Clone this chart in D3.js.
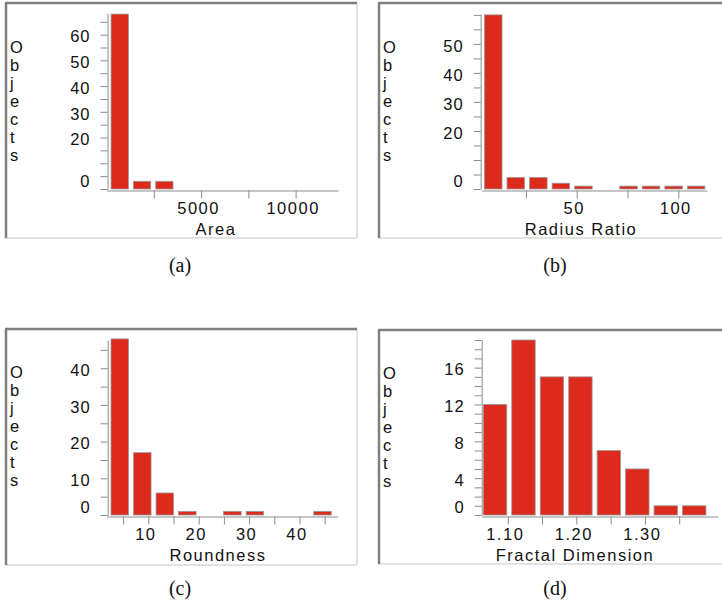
<!DOCTYPE html>
<html>
<head>
<meta charset="utf-8">
<script src="https://cdn.jsdelivr.net/npm/d3@7"></script>
<style>
  body { margin: 0; background: #fff; }
  svg { display: block; }
</style>
</head>
<body>
<svg width="722" height="607"></svg>

<script>
// ---- data ----
// Area histogram
var areaCounts = [68, 3, 3, 0, 0, 0, 0, 0, 0, 0];
var areaBinStart = 30, areaBinWidth = 1180;
var areaTicksX = [2500, 5000, 7500, 10000];
var areaLabelsX = [5000, 10000];
var areaTicksY = [0, 5, 10, 15, 20, 25, 30, 35, 40, 45, 50, 55, 60, 65];
var areaLabelsY = [0, 20, 30, 40, 50, 60];

// Radius Ratio histogram
var radiusCounts = [60, 4, 4, 2, 1, 0, 1, 1, 1, 1];
var radiusBinStart = 2.6, radiusBinWidth = 11.1;
var radiusTicksX = [25, 50, 75, 100];
var radiusLabelsX = [50, 100];
var radiusTicksY = [0, 5, 10, 15, 20, 25, 30, 35, 40, 45, 50, 55, 60];
var radiusLabelsY = [0, 20, 30, 40, 50];

// Roundness histogram
var roundCounts = [48, 17, 6, 1, 0, 1, 1, 0, 0, 1];
var roundBinStart = 1.8, roundBinWidth = 4.47;
var roundTicksX = [5, 10, 15, 20, 25, 30, 35, 40, 45];
var roundLabelsX = [10, 20, 30, 40];
var roundTicksY = [0, 5, 10, 15, 20, 25, 30, 35, 40, 45];
var roundLabelsY = [0, 10, 20, 30, 40];

// Fractal Dimension histogram
var fractalCounts = [12, 19, 15, 15, 7, 5, 1, 1];
var fractalBinStart = 1.0585, fractalBinWidth = 0.0415;
var fractalTicksX = [1.10, 1.15, 1.20, 1.25, 1.30, 1.35];
var fractalLabelsX = [1.10, 1.20, 1.30];
var fractalTicksY = [0, 1, 2, 3, 4, 5, 6, 7, 8, 9, 10, 11, 12, 13, 14, 15, 16, 17, 18, 19];
var fractalLabelsY = [0, 4, 8, 12, 16];

var yLabel = "Objects";
var captions = ["(a)", "(b)", "(c)", "(d)"];

// ---- drawing ----
var svg = d3.select("svg");
svg.append("rect").attr("width", 722).attr("height", 607).attr("fill", "#fff");

var barFill = "#dc2b1d";
var axisColor = "#8c8c8c";
var font = "'Liberation Sans', Arial, sans-serif";
var ink = "#111";

function drawPanel(p) {
	var g = svg.append("g");

	// bevelled frame
	g.append("line").attr("x1", p.frame[0]).attr("x2", p.frame[2])
		.attr("y1", p.frame[3]).attr("y2", p.frame[3])
		.attr("stroke", "#d8d8d8").attr("stroke-width", 1.5);
	g.append("line").attr("x1", p.frame[2]).attr("x2", p.frame[2])
		.attr("y1", p.frame[1]).attr("y2", p.frame[3])
		.attr("stroke", "#d8d8d8").attr("stroke-width", 1.5);
	g.append("line").attr("x1", p.frame[0]).attr("x2", p.frame[2])
		.attr("y1", p.frame[1]).attr("y2", p.frame[1])
		.attr("stroke", "#7f7f7f").attr("stroke-width", 2.5);
	g.append("line").attr("x1", p.frame[0] + 1).attr("x2", p.frame[0] + 1)
		.attr("y1", p.frame[1]).attr("y2", p.frame[3])
		.attr("stroke", "#7f7f7f").attr("stroke-width", 2.5);

	var x = d3.scaleLinear().domain(p.xDomain).range(p.xRange);
	var y = d3.scaleLinear().domain(p.yDomain).range(p.yRange);

	// bars
	var bins = p.counts.map(function(c, i) {
		return { x0: p.binStart + i * p.binWidth, x1: p.binStart + (i + 1) * p.binWidth, n: c };
	}).filter(function(d) { return d.n > 0; });

	g.selectAll("rect.bar").data(bins).enter().append("rect")
		.attr("class", "bar")
		.attr("x", function(d) { return x(d.x0) + 4; })
		.attr("width", function(d) { return x(d.x1) - x(d.x0) - 5; })
		.attr("y", function(d) { return y(d.n); })
		.attr("height", function(d) { return y(0) - y(d.n); })
		.attr("fill", barFill)
		.attr("stroke", "#9a9a9a")
		.attr("stroke-width", 0.8);

	// y axis
	var yAxis = g.append("g")
		.attr("transform", "translate(" + p.yAxisX + ",0)")
		.call(d3.axisLeft(y).tickValues(p.ticksY).tickSize(7).tickSizeOuter(0).tickPadding(10)
			.tickFormat(function(d) { return p.labelsY.indexOf(d) >= 0 ? d : ""; }));
	yAxis.select(".domain").attr("stroke", axisColor);
	yAxis.selectAll(".tick line").attr("stroke", axisColor);
	yAxis.selectAll(".tick text")
		.attr("font-family", font).attr("font-size", 16.5).attr("fill", ink)
		.attr("letter-spacing", "1px")
		.attr("y", function(d) { return d === 0 ? -8 : 2; });

	// x axis
	var xAxis = g.append("g")
		.attr("transform", "translate(0," + p.xAxisY + ")")
		.call(d3.axisBottom(x).tickValues(p.ticksX).tickSize(8).tickSizeOuter(0).tickPadding(4)
			.tickFormat(function(d) {
				var hit = p.labelsX.some(function(v) { return Math.abs(v - d) < 1e-9; });
				return hit ? p.fmt(d) : "";
			}));
	xAxis.select(".domain").attr("stroke", axisColor);
	xAxis.selectAll(".tick line").attr("stroke", axisColor);
	xAxis.selectAll(".tick text")
		.attr("font-family", font).attr("font-size", 16.5).attr("fill", ink)
		.attr("letter-spacing", "1.5px")
		.attr("dx", -3).attr("dy", "0.72em");

	// x title
	g.append("text")
		.attr("x", p.titleX).attr("y", p.xAxisY + 44)
		.attr("text-anchor", "middle")
		.attr("font-family", font).attr("font-size", 16.5).attr("fill", ink)
		.attr("letter-spacing", "1.5px")
		.text(p.title);

	// vertical "Objects"
	g.selectAll("text.ylab").data(yLabel.split("")).enter().append("text")
		.attr("class", "ylab")
		.attr("x", p.yLabelX)
		.attr("y", function(d, i) { return p.yLabelY + i * 18; })
		.attr("font-family", font).attr("font-size", 16.5).attr("fill", ink)
		.text(function(d) { return d; });

	// caption
	svg.append("text")
		.attr("x", p.capX).attr("y", p.capY)
		.attr("text-anchor", "middle")
		.attr("font-family", "'Liberation Serif', 'DejaVu Serif', serif")
		.attr("font-size", 20).attr("fill", "#111")
		.text(p.caption);
}

var fmtInt = d3.format("d");

drawPanel({
	counts: areaCounts, binStart: areaBinStart, binWidth: areaBinWidth,
	ticksX: areaTicksX, labelsX: areaLabelsX, ticksY: areaTicksY, labelsY: areaLabelsY,
	fmt: fmtInt, title: "Area", caption: captions[0],
	frame: [5, 3, 357, 238],
	xDomain: [0, 12240], xRange: [106.5, 338],
	yDomain: [0, 68.3], yRange: [189, 13.3],
	yAxisX: 107.5, xAxisY: 190.5, titleX: 216,
	yLabelX: 10, yLabelY: 52.5, capX: 180, capY: 272
});

drawPanel({
	counts: radiusCounts, binStart: radiusBinStart, binWidth: radiusBinWidth,
	ticksX: radiusTicksX, labelsX: radiusLabelsX, ticksY: radiusTicksY, labelsY: radiusLabelsY,
	fmt: fmtInt, title: "Radius Ratio", caption: captions[1],
	frame: [378, 3, 725, 238],
	xDomain: [3.2, 114], xRange: [481.7, 706.7],
	yDomain: [0, 60.3], yRange: [189, 14],
	yAxisX: 480.7, xAxisY: 190.5, titleX: 581,
	yLabelX: 383, yLabelY: 52.5, capX: 555, capY: 272
});

drawPanel({
	counts: roundCounts, binStart: roundBinStart, binWidth: roundBinWidth,
	ticksX: roundTicksX, labelsX: roundLabelsX, ticksY: roundTicksY, labelsY: roundLabelsY,
	fmt: fmtInt, title: "Roundness", caption: captions[2],
	frame: [5, 329, 357, 565],
	xDomain: [1.7, 47.6], xRange: [106.5, 337.8],
	yDomain: [0, 47.7], yRange: [515, 340],
	yAxisX: 107.7, xAxisY: 516.5, titleX: 218,
	yLabelX: 10, yLabelY: 377.5, capX: 180, capY: 595
});

drawPanel({
	counts: fractalCounts, binStart: fractalBinStart, binWidth: fractalBinWidth,
	ticksX: fractalTicksX, labelsX: fractalLabelsX, ticksY: fractalTicksY, labelsY: fractalLabelsY,
	fmt: d3.format(".2f"), title: "Fractal Dimension", caption: captions[3],
	frame: [378, 330, 725, 564],
	xDomain: [1.062, 1.4066], xRange: [481.7, 718],
	yDomain: [0, 19], yRange: [515, 340],
	yAxisX: 481.7, xAxisY: 516.5, titleX: 575,
	yLabelX: 383, yLabelY: 379, capX: 555, capY: 595
});
</script>
</body>
</html>
